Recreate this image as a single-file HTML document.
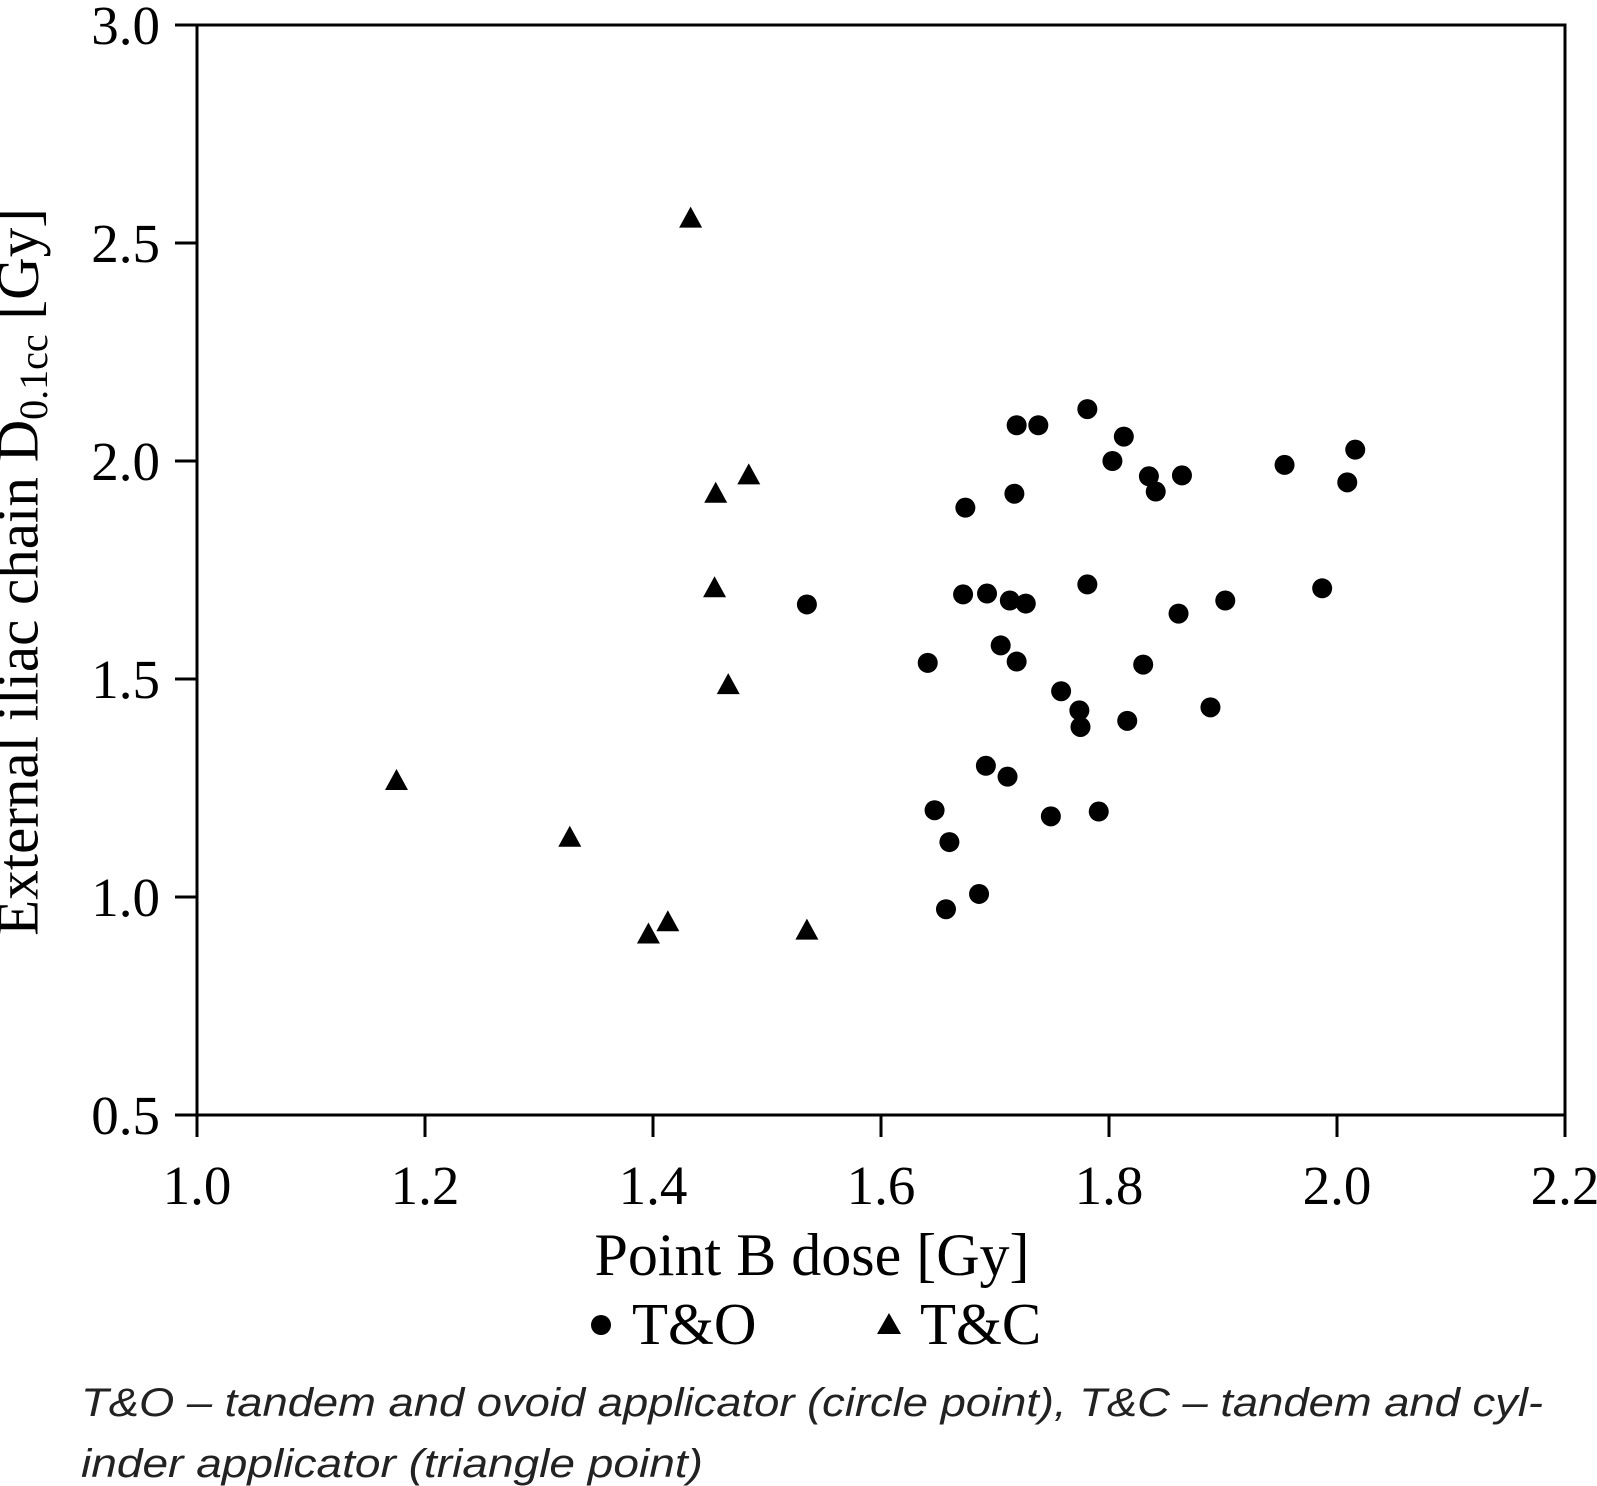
<!DOCTYPE html>
<html><head><meta charset="utf-8"><style>
html,body{margin:0;padding:0;background:#fff;}
svg{display:block;}
</style></head><body>
<svg id="chart" width="1597" height="1486" viewBox="0 0 1597 1486" xmlns="http://www.w3.org/2000/svg">
<g id="axes"></g>
<g id="marks"></g>
<text x="24" y="572" transform="rotate(-90 24 572)" text-anchor="middle" dominant-baseline="middle" font-family="Liberation Serif, serif" font-size="59">External iliac chain D<tspan font-size="40" dy="14">0.1cc</tspan><tspan dy="-14"> [Gy]</tspan></text>
<text x="812" y="1275" text-anchor="middle" font-family="Liberation Serif, serif" font-size="60">Point B dose [Gy]</text>
<g>
<circle cx="601" cy="1325" r="10" fill="#000"></circle>
<text x="632" y="1344" font-family="Liberation Serif, serif" font-size="59">T&amp;O</text>
<polygon points="889,1313 901,1334 877,1334" fill="#000"></polygon>
<text x="920" y="1344" font-family="Liberation Serif, serif" font-size="59">T&amp;C</text>
</g>
<text x="81" y="1416" font-family="Liberation Sans, sans-serif" font-style="italic" font-size="40" fill="#222" textLength="1462" lengthAdjust="spacingAndGlyphs">T&amp;O – tandem and ovoid applicator (circle point), T&amp;C – tandem and cyl-</text>
<text x="81" y="1477" font-family="Liberation Sans, sans-serif" font-style="italic" font-size="40" fill="#222" textLength="622" lengthAdjust="spacingAndGlyphs">inder applicator (triangle point)</text>
</svg>
<script>
const xTicks = [1.0, 1.2, 1.4, 1.6, 1.8, 2.0, 2.2];
const yTicks = [0.5, 1.0, 1.5, 2.0, 2.5, 3.0];
const toX = [1.535,1.641,1.647,1.660,1.657,1.686,1.674,1.672,1.693,1.692,1.705,1.713,1.727,1.717,1.719,1.738,1.719,1.711,1.749,1.758,1.774,1.775,1.781,1.781,1.791,1.813,1.803,1.816,1.830,1.835,1.841,1.864,1.861,1.889,1.902,1.954,1.987,2.009,2.016];
const toY = [1.671,1.537,1.199,1.126,0.972,1.007,1.893,1.694,1.696,1.301,1.577,1.680,1.673,1.925,2.082,2.082,1.540,1.276,1.185,1.472,1.428,1.390,1.717,2.119,1.196,2.056,2.000,1.404,1.533,1.965,1.930,1.967,1.650,1.435,1.680,1.991,1.708,1.951,2.026];
const tcX = [1.175,1.327,1.396,1.413,1.535,1.433,1.455,1.484,1.454,1.466];
const tcY = [1.266,1.136,0.914,0.942,0.923,2.556,1.925,1.967,1.708,1.486];

const X0=197, X1=1565, Y0=1115, Y1=25;
function sx(v){return X0+(v-1.0)/(2.2-1.0)*(X1-X0);}
function sy(v){return Y0-(v-0.5)/(3.0-0.5)*(Y0-Y1);}
const NS='http://www.w3.org/2000/svg';
function mk(tag, attrs, parent){const e=document.createElementNS(NS,tag);for(const k in attrs)e.setAttribute(k,attrs[k]);parent.appendChild(e);return e;}
const axes=document.getElementById('axes');
const marks=document.getElementById('marks');

const frame=mk('rect',{x:X0,y:Y1,width:X1-X0,height:Y0-Y1,fill:'none',stroke:'#000','stroke-width':3},axes);



xTicks.forEach(t=>{
  const x=sx(t);
  const l=mk('line',{x1:x,y1:Y0,x2:x,y2:Y0+22,stroke:'#000','stroke-width':3},axes);
  
  
  const tx=mk('text',{x:x,y:1204,'text-anchor':'middle','font-family':'Liberation Serif, serif','font-size':55},axes);
  tx.textContent=t.toFixed(1);
  
  
});
yTicks.forEach(t=>{
  const y=sy(t);
  const l=mk('line',{x1:X0-22,y1:y,x2:X0,y2:y,stroke:'#000','stroke-width':3},axes);
  
  
  const tx=mk('text',{x:160,y:y+19,'text-anchor':'end','font-family':'Liberation Serif, serif','font-size':55},axes);
  tx.textContent=t.toFixed(1);
  
  
});

toX.forEach((v,i)=>{
  const c=mk('circle',{cx:sx(v),cy:sy(toY[i]),r:10,fill:'#000'},marks);
  
  
});
tcX.forEach((v,i)=>{
  const x=sx(v), y=sy(tcY[i]);
  const p=mk('polygon',{points:`${x},${y-12} ${x+11.5},${y+9} ${x-11.5},${y+9}`,fill:'#000'},marks);
  
  
});
</script>
</body></html>
